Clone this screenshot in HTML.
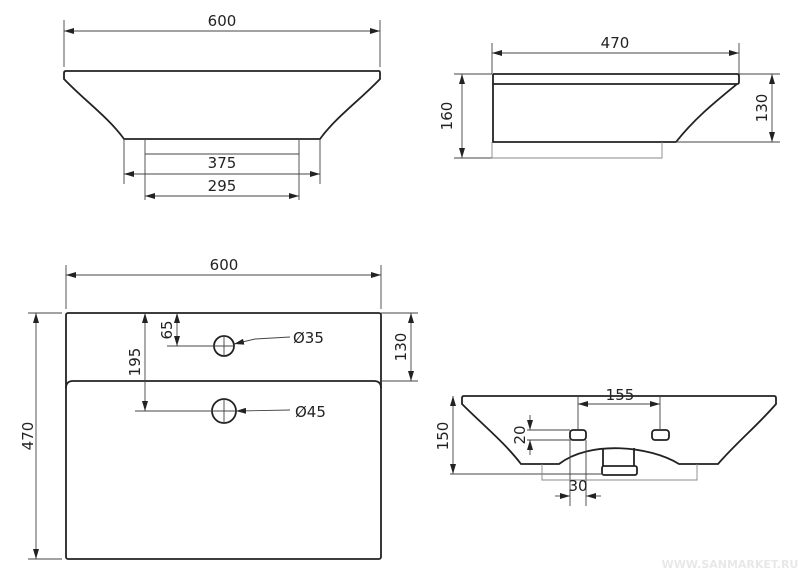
<!DOCTYPE html>
<html><head><meta charset="utf-8"><style>
html,body{margin:0;padding:0;background:#fff;}
svg{display:block;}
text{font-family:"DejaVu Sans","Liberation Sans",sans-serif;font-size:15px;fill:#222;}
</style></head><body>
<svg width="799" height="576" viewBox="0 0 799 576" xmlns="http://www.w3.org/2000/svg">
<defs>
<marker id="a" viewBox="0 0 10 6" refX="10" refY="3" markerWidth="10" markerHeight="6" markerUnits="userSpaceOnUse" orient="auto-start-reverse"><path d="M0,0 L10,3 L0,6 z" fill="#222"/></marker>
</defs>
<g fill="none" stroke="#222" stroke-width="1.8">
<path d="M66,71 L379,71 Q380,71 380,73 L380,79 C360,100 335,118 320,139 L124,139 C109,118 84,100 64,79 L64,73 Q64,71 66,71 Z"/>
<path d="M493,74 L737,74 Q739,74 739,76 L739,82 Q739,84 737,84 L493,84 L493,142 L676,142 C695,118 715,102 737,84"/>
<path d="M493,74 L493,84"/>
<rect x="66" y="313" width="315" height="246" rx="2"/>
<path d="M66,388 Q66,381 73,381 L374,381 Q381,381 381,388"/>
<circle cx="224" cy="346" r="10"/>
<circle cx="224" cy="411" r="12"/>
<path d="M464,396 L774,396 Q776,396 776,398 L776,404 C758,425 736,443 718,464 L679,464 C650,446 590,440 559,464 L521,464 C505,443 483,425 462,404 L462,398 Q462,396 464,396 Z"/>
<rect x="570" y="430" width="16" height="10" rx="3"/>
<rect x="652" y="430" width="17" height="10" rx="3"/>
<path d="M603,448 L603,466 M634,448 L634,466"/>
<rect x="602" y="466" width="35" height="9" rx="2"/>
</g>
<g fill="none" stroke="#444" stroke-width="0.9">
<path d="M64,20 L64,67 M380,20 L380,67"/>
<line x1="64" y1="31" x2="380" y2="31" marker-start="url(#a)" marker-end="url(#a)"/>
<path d="M145,139 L145,200 M299,139 L299,200 M145,154 L299,154 M124,139 L124,184 M320,139 L320,184"/>
<line x1="124" y1="174" x2="320" y2="174" marker-start="url(#a)" marker-end="url(#a)"/>
<line x1="145" y1="196" x2="299" y2="196" marker-start="url(#a)" marker-end="url(#a)"/>
<path d="M492,43 L492,74 M739,43 L739,74"/>
<line x1="492" y1="53" x2="739" y2="53" marker-start="url(#a)" marker-end="url(#a)"/>
<path d="M454,74 L492,74 M454,158 L492,158 M739,74 L780,74 M676,142 L780,142"/>
<line x1="462" y1="74" x2="462" y2="158" marker-start="url(#a)" marker-end="url(#a)"/>
<line x1="772" y1="74" x2="772" y2="142" marker-start="url(#a)" marker-end="url(#a)"/>
<path d="M492,142 L492,158 L662,158 L662,142" stroke="#888"/>
<path d="M66,265 L66,309 M381,265 L381,309"/>
<line x1="66" y1="275" x2="381" y2="275" marker-start="url(#a)" marker-end="url(#a)"/>
<path d="M28,313 L62,313 M28,559 L62,559 M381,313 L418,313 M381,381 L418,381"/>
<line x1="36" y1="313" x2="36" y2="559" marker-start="url(#a)" marker-end="url(#a)"/>
<line x1="145" y1="313" x2="145" y2="411" marker-start="url(#a)" marker-end="url(#a)"/>
<line x1="177" y1="313" x2="177" y2="346" marker-start="url(#a)" marker-end="url(#a)"/>
<line x1="411" y1="313" x2="411" y2="381" marker-start="url(#a)" marker-end="url(#a)"/>
<path d="M167,346 L234,346 M224,336 L224,356 M135,411 L236,411 M224,399 L224,423"/>
<path d="M290,337 L255,339"/><line x1="255" y1="339" x2="234" y2="344" marker-end="url(#a)"/>
<line x1="290" y1="410" x2="236" y2="411" marker-end="url(#a)"/>
<path d="M450,474 L603,474"/>
<line x1="453" y1="396" x2="453" y2="474" marker-start="url(#a)" marker-end="url(#a)"/>
<path d="M578,396 L578,430 M660,396 L660,430"/>
<line x1="578" y1="404" x2="660" y2="404" marker-start="url(#a)" marker-end="url(#a)"/>
<path d="M527,430 L570,430 M527,440 L570,440"/>
<line x1="530" y1="415" x2="530" y2="430" marker-end="url(#a)"/>
<line x1="530" y1="455" x2="530" y2="440" marker-end="url(#a)"/>
<path d="M570,440 L570,506 M586,440 L586,506"/>
<line x1="555" y1="496" x2="570" y2="496" marker-end="url(#a)"/>
<line x1="601" y1="496" x2="586" y2="496" marker-end="url(#a)"/>
<path d="M542,464 L542,480 L697,480 L697,464" stroke="#888"/>
</g>
<g>
<text x="222" y="26" text-anchor="middle">600</text>
<text x="222" y="168" text-anchor="middle">375</text>
<text x="222" y="191" text-anchor="middle">295</text>
<text x="615" y="48" text-anchor="middle">470</text>
<text transform="translate(452,116) rotate(-90)" text-anchor="middle">160</text>
<text transform="translate(767,108) rotate(-90)" text-anchor="middle">130</text>
<text x="224" y="270" text-anchor="middle">600</text>
<text transform="translate(33,436) rotate(-90)" text-anchor="middle">470</text>
<text transform="translate(140,362) rotate(-90)" text-anchor="middle">195</text>
<text transform="translate(172,330) rotate(-90)" text-anchor="middle">65</text>
<text transform="translate(406,347) rotate(-90)" text-anchor="middle">130</text>
<text x="293" y="343">Ø35</text>
<text x="295" y="417">Ø45</text>
<text x="620" y="400" text-anchor="middle">155</text>
<text transform="translate(448,436) rotate(-90)" text-anchor="middle">150</text>
<text transform="translate(525,435) rotate(-90)" text-anchor="middle">20</text>
<text x="578" y="491" text-anchor="middle">30</text>
<text x="730" y="568" text-anchor="middle" style="font-size:11px;fill:#e8e8e8;font-weight:bold">WWW.SANMARKET.RU</text>
</g>
</svg>
</body></html>
